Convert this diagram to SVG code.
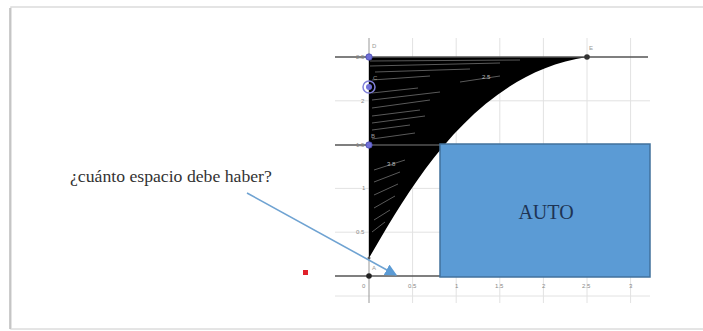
<svg xmlns="http://www.w3.org/2000/svg" width="703" height="331" viewBox="0 0 703 331">
<style>
.grid{stroke:#e2e2e2;stroke-width:1}
.axis{stroke:#555;stroke-width:1.6}
.tick{font-family:"Liberation Sans",Arial,sans-serif;font-size:6px;fill:#888}
.pl{font-family:"Liberation Sans",Arial,sans-serif;font-size:6px;fill:#999}
.streak{stroke:#fff;stroke-width:1;opacity:0.35}
.serif{font-family:"Liberation Serif","Times New Roman",serif}
</style>
<defs>
<marker id="ah" viewBox="0 0 10 10" refX="9" refY="5" markerWidth="7.5" markerHeight="7.5" orient="auto" markerUnits="strokeWidth">
<path d="M0,0 L10,5 L0,10 Z" fill="#5B9BD5"/>
</marker>
</defs>
<rect x="0" y="0" width="703" height="331" fill="#fff"/>
<g id="card">
<rect x="11" y="7" width="700" height="322" fill="#fff" stroke="#dcdcdc" stroke-width="1.5"/>
<line x1="10" y1="8" x2="10" y2="329" stroke="#bbb" stroke-width="1.5"/>
</g>
<g id="grid">
<line class="grid" x1="412.6" y1="38" x2="412.6" y2="303"/>
<line class="grid" x1="456.2" y1="38" x2="456.2" y2="303"/>
<line class="grid" x1="499.8" y1="38" x2="499.8" y2="303"/>
<line class="grid" x1="543.4" y1="38" x2="543.4" y2="303"/>
<line class="grid" x1="587" y1="38" x2="587" y2="303"/>
<line class="grid" x1="630.6" y1="38" x2="630.6" y2="303"/>
<line class="grid" x1="335" y1="100.8" x2="650" y2="100.8"/>
<line class="grid" x1="335" y1="188.4" x2="650" y2="188.4"/>
<line class="grid" x1="335" y1="232.2" x2="650" y2="232.2"/>
<line class="grid" x1="335" y1="296" x2="650" y2="296"/>
<line x1="369" y1="38" x2="369" y2="303" stroke="#999" stroke-width="1"/>
</g>
<g id="region">
<path d="M369,57 L587,57 C472,74 408,192 369,258 Z" fill="#000"/>
<line class="streak" x1="370" y1="61" x2="520" y2="60"/>
<line class="streak" x1="370" y1="66" x2="500" y2="63"/>
<line class="streak" x1="375" y1="72" x2="470" y2="69"/>
<line class="streak" x1="372" y1="80" x2="430" y2="76"/>
<line class="streak" x1="372" y1="93" x2="418" y2="88" stroke-width="2.5" opacity="0.6"/>
<line class="streak" x1="372" y1="100" x2="440" y2="92"/>
<line class="streak" x1="372" y1="108" x2="430" y2="100"/>
<line class="streak" x1="372" y1="116" x2="420" y2="110"/>
<line class="streak" x1="372" y1="123" x2="425" y2="116"/>
<line class="streak" x1="372" y1="130" x2="410" y2="125"/>
<line class="streak" x1="372" y1="139" x2="415" y2="133"/>
<line class="streak" x1="374" y1="170" x2="405" y2="160"/>
<line class="streak" x1="374" y1="182" x2="400" y2="172"/>
<line class="streak" x1="374" y1="195" x2="398" y2="184"/>
<line class="streak" x1="374" y1="208" x2="395" y2="196"/>
<line class="streak" x1="374" y1="220" x2="390" y2="210"/>
<line class="streak" x1="372" y1="232" x2="385" y2="222"/>
<line class="streak" x1="460" y1="82" x2="500" y2="76"/>
<text x="482" y="79" font-family="Liberation Sans,Arial,sans-serif" font-size="6" fill="#bbb">2.5</text>
<text x="387" y="166" font-family="Liberation Sans,Arial,sans-serif" font-size="6" fill="#bbb">3.8</text>
</g>
<g id="axes">
<line class="axis" x1="335" y1="57" x2="648" y2="57"/>
<line class="axis" x1="335" y1="145" x2="440" y2="145"/>
<line class="axis" x1="335" y1="276" x2="650" y2="276"/>
</g>
<g id="ticks">
<text class="tick" x="356" y="59">2.5</text>
<text class="tick" x="361" y="103">2</text>
<text class="tick" x="356" y="147">1.5</text>
<text class="tick" x="362" y="190">1</text>
<text class="tick" x="356" y="234">0.5</text>
<text class="tick" x="362" y="288">0</text>
<text class="tick" x="408" y="288">0.5</text>
<text class="tick" x="455" y="288">1</text>
<text class="tick" x="495" y="288">1.5</text>
<text class="tick" x="542" y="288">2</text>
<text class="tick" x="582" y="288">2.5</text>
<text class="tick" x="629" y="288">3</text>
</g>
<g id="points">
<circle cx="369" cy="57" r="3.2" fill="#7070D8" stroke="#4a4ab0" stroke-width="0.8"/>
<circle cx="369" cy="87" r="6" fill="none" stroke="#8080D8" stroke-width="1.5"/>
<circle cx="369" cy="87" r="3" fill="#7070D8"/>
<circle cx="369" cy="145" r="3.2" fill="#7070D8" stroke="#4a4ab0" stroke-width="0.8"/>
<circle cx="369" cy="276" r="2.8" fill="#222"/>
<circle cx="587" cy="57" r="2.8" fill="#333"/>
<circle cx="369" cy="258" r="1.5" fill="#555"/>
<text class="pl" x="372" y="48">D</text>
<text class="pl" x="373" y="80" fill="#8a8ad0">C</text>
<text class="pl" x="371" y="138">B</text>
<text class="pl" x="372" y="270">A</text>
<text class="pl" x="589" y="50">E</text>
</g>
<g id="red"><rect x="303" y="270" width="5" height="5" fill="#E0202A"/></g>
<g id="auto">
<rect x="440" y="144" width="210" height="133" fill="#5B9BD5" stroke="#41719C" stroke-width="1.5"/>
<text class="serif" x="546" y="219" font-size="20" fill="#1e3454" text-anchor="middle">AUTO</text>
</g>
<g id="question">
<text class="serif" x="70" y="182" font-size="17.7" fill="#333">¿cuánto espacio debe haber?</text>
</g>
<g id="connectors">
<line x1="247" y1="193" x2="396" y2="275" stroke="#6FA3D2" stroke-width="1.6" marker-end="url(#ah)"/>
</g>
</svg>
